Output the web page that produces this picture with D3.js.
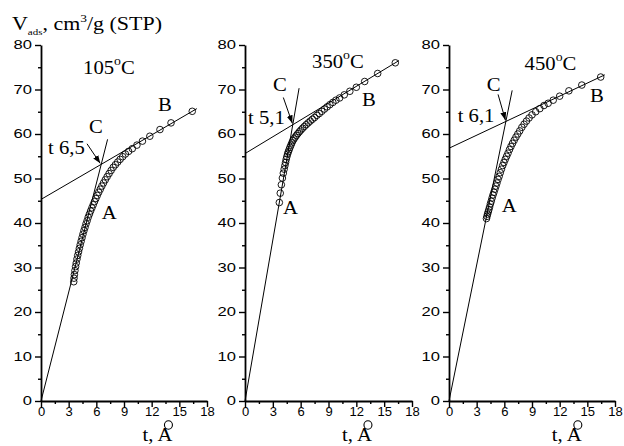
<!DOCTYPE html>
<html>
<head>
<meta charset="utf-8">
<script src="https://d3js.org/d3.v7.min.js"></script>
<style>
    body { margin: 0; background: #fff; }
</style>
</head>
<body>
<div id="chart"></div>
<script>

// tick values
var ticksX = [0, 3, 6, 9, 12, 15, 18];
var minorX = [1.5, 4.5, 7.5, 10.5, 13.5, 16.5];
var ticksY = [0, 10, 20, 30, 40, 50, 60, 70, 80];
var minorY = [5, 15, 25, 35, 45, 55, 65, 75];

// panel names and the t value written at C
var temps = ["105", "350", "450"];
var tC = ["6,5", "5,1", "6,1"];

// 105 C : t (A) and V ads (cm3/g)
var t105 = [3.55, 3.58, 3.62, 3.68, 3.75, 3.82, 3.9, 3.98, 4.07, 4.16, 4.25, 4.35, 4.45, 4.55, 4.66, 4.77,
    4.88, 5.0, 5.12, 5.25, 5.38, 5.52, 5.66, 5.8, 5.95, 6.1, 6.26, 6.43, 6.6, 6.78, 6.97, 7.17, 7.38, 7.6,
    7.83, 8.07, 8.32, 8.58, 8.86, 9.15, 9.5, 9.9, 10.4, 11.0, 11.8, 12.9, 14.1, 16.4];
var v105 = [26.8, 27.6, 28.4, 29.3, 30.2, 31.0, 31.9, 32.7, 33.5, 34.3, 35.1, 35.9, 36.7, 37.5, 38.3, 39.0,
    39.8, 40.5, 41.3, 42.0, 42.7, 43.4, 44.1, 44.8, 45.5, 46.2, 46.9, 47.6, 48.3, 49.0, 49.7, 50.4, 51.1, 51.8,
    52.5, 53.1, 53.7, 54.3, 54.9, 55.5, 56.1, 56.7, 57.5, 58.4, 59.5, 61.0, 62.5, 65.1];

// 350 C
var t350 = [3.7, 3.8, 3.92, 4.03, 4.13, 4.22, 4.3, 4.37, 4.44, 4.51, 4.59, 4.67, 4.76, 4.85, 4.95, 5.05,
    5.16, 5.28, 5.41, 5.55, 5.7, 5.86, 6.03, 6.21, 6.4, 6.6, 6.81, 7.03, 7.26, 7.5, 7.75, 8.01, 8.28, 8.56,
    8.85, 9.15, 9.47, 9.8, 10.2, 10.7, 11.3, 12.0, 12.9, 14.3, 16.2];
var v350 = [44.6, 46.7, 48.6, 50.1, 51.2, 52.1, 52.9, 53.6, 54.3, 54.9, 55.5, 56.0, 56.5, 57.0, 57.5, 58.0,
    58.5, 58.9, 59.3, 59.7, 60.1, 60.5, 60.9, 61.3, 61.7, 62.1, 62.5, 62.9, 63.3, 63.7, 64.2, 64.6, 65.1, 65.6,
    66.1, 66.6, 67.1, 67.6, 68.1, 68.8, 69.6, 70.5, 71.8, 73.6, 76.0];

// 450 C
var t450 = [4.06, 4.12, 4.18, 4.25, 4.32, 4.4, 4.49, 4.58, 4.67, 4.77, 4.87, 4.98, 5.09, 5.2, 5.32, 5.44,
    5.56, 5.69, 5.82, 5.96, 6.1, 6.25, 6.4, 6.56, 6.72, 6.89, 7.07, 7.26, 7.46, 7.67, 7.9, 8.14, 8.4, 8.68,
    9.0, 9.4, 9.85, 10.3, 10.75, 11.3, 12.0, 13.0, 14.4, 16.45];
var v450 = [41.0, 41.5, 42.0, 42.5, 43.0, 43.6, 44.3, 44.9, 45.6, 46.3, 46.9, 47.6, 48.3, 49.0, 49.8, 50.5,
    51.3, 52.1, 52.9, 53.6, 54.3, 55.0, 55.7, 56.5, 57.2, 57.9, 58.6, 59.3, 60.0, 60.7, 61.5, 62.2, 62.9, 63.6,
    64.3, 65.0, 65.7, 66.4, 66.9, 67.6, 68.5, 69.7, 71.0, 72.8];

// straight lines, [t, V] end points
var lineA105 = [[0, 0], [7.22, 58.8]], lineB105 = [[0, 45.3], [16.9, 65.7]];
var lineA350 = [[0, 0], [5.83, 70.3]], lineB350 = [[0, 55.6], [16.6, 76.5]];
var lineA450 = [[0, 0], [6.85, 69.8]], lineB450 = [[0, 56.8], [16.9, 73.3]];

var serif = "'Liberation Serif', 'Times New Roman', serif";
var sans = "'Liberation Sans', Arial, sans-serif";

var svg = d3.select("#chart")
    .append("svg")
    .attr("width", 624)
    .attr("height", 446);

svg.append("defs").append("marker")
    .attr("id", "arr")
    .attr("markerUnits", "userSpaceOnUse")
    .attr("markerWidth", 8)
    .attr("markerHeight", 6)
    .attr("refX", 8)
    .attr("refY", 3)
    .attr("orient", "auto")
    .append("path")
    .attr("d", "M0,0 L8,3 L0,6 Z")
    .style("fill", "black");

// text stretched a bit wider, like the scanned figure
function stext(g, x, y, sx, size, family) {
    return g.append("text")
        .attr("transform", "translate(" + x + "," + y + ") scale(" + sx + ",1)")
        .style("font-family", family)
        .style("font-size", size + "px")
        .style("fill", "black");
}

// y axis title
var title = stext(svg, 12, 30, 1.22, 18, serif);
title.append("tspan").text("V");
title.append("tspan").attr("dy", 5).style("font-size", "9px").text("ads");
title.append("tspan").attr("dy", -5).text(", cm");
title.append("tspan").attr("dy", -8).style("font-size", "11px").text("3");
title.append("tspan").attr("dy", 8).text("/g (STP)");

var panels = [
    { x0: 41, x1: 207, t: t105, v: v105, a: lineA105, b: lineB105,
      tempAt: [4.56, 73.5], cAt: [5.2, 60.3], tAt: [0.76, 55.6], aAt: [6.6, 41.0], bAt: [12.7, 65.2],
      arrow: [[4.99, 57.8], [6.42, 53.4]], xTitle: 11.0 },
    { x0: 245, x1: 412, t: t350, v: v350, a: lineA350, b: lineB350,
      tempAt: [7.23, 74.8], cAt: [3.02, 69.6], tAt: [0.32, 62.2], aAt: [4.1, 42.0], bAt: [12.6, 66.2],
      arrow: [[4.13, 68.2], [5.1, 62.4]], xTitle: 10.45 },
    { x0: 449, x1: 615, t: t450, v: v450, a: lineA450, b: lineB450,
      tempAt: [8.2, 74.3], cAt: [4.09, 69.6], tAt: [0.94, 62.6], aAt: [5.72, 42.4], bAt: [15.3, 67.1],
      arrow: [[5.32, 68.9], [6.12, 63.1]], xTitle: 11.15 }
];

panels.forEach(function (p, i) {
    var x = d3.scaleLinear().domain([0, 18]).range([p.x0, p.x1]);
    var y = d3.scaleLinear().domain([0, 80]).range([401, 45]);
    var g = svg.append("g");

    // axes
    var gx = g.append("g")
        .attr("transform", "translate(0,401)")
        .call(d3.axisBottom(x).tickValues(ticksX).tickSize(6).tickSizeOuter(0).tickPadding(0));
    gx.selectAll("text").style("font-family", sans).style("font-size", "13px");
    g.append("g")
        .attr("transform", "translate(0,401)")
        .call(d3.axisBottom(x).tickValues(minorX).tickSize(3).tickFormat(""))
        .select(".domain").remove();

    var gy = g.append("g")
        .attr("transform", "translate(" + p.x0 + ",0)")
        .call(d3.axisLeft(y).tickValues(ticksY).tickSize(6).tickSizeOuter(0).tickPadding(3));
    gy.selectAll("text")
        .style("font-family", sans).style("font-size", "12px")
        .attr("x", -9 / 1.38)
        .attr("transform", "scale(1.38,1)");
    g.append("g")
        .attr("transform", "translate(" + p.x0 + ",0)")
        .call(d3.axisLeft(y).tickValues(minorY).tickSize(3).tickFormat(""))
        .select(".domain").remove();

    g.selectAll(".domain").style("stroke-width", 1.8);
    g.selectAll(".tick line").style("stroke-width", 1.4);

    // straight lines
    var line = d3.line().x(function (d) { return x(d[0]); }).y(function (d) { return y(d[1]); });
    [p.a, p.b].forEach(function (l) {
        g.append("path").attr("d", line(l))
            .style("fill", "none").style("stroke", "black").style("stroke-width", 1);
    });

    // measured points
    g.selectAll("circle.pt")
        .data(d3.range(p.t.length))
        .enter()
        .append("circle")
        .attr("class", "pt")
        .attr("cx", function (k) { return x(p.t[k]); })
        .attr("cy", function (k) { return y(p.v[k]); })
        .attr("r", 3.3)
        .style("fill", "none")
        .style("stroke", "black")
        .style("stroke-width", 0.9);

    // arrow to C
    g.append("path").attr("d", line(p.arrow))
        .style("fill", "none").style("stroke", "black").style("stroke-width", 1)
        .attr("marker-end", "url(#arr)");

    // labels
    var tt = stext(g, x(p.tempAt[0]), y(p.tempAt[1]), 1.15, 18, serif);
    tt.append("tspan").text(temps[i]);
    tt.append("tspan").attr("dy", -9).style("font-size", "12px").text("o");
    tt.append("tspan").attr("dy", 9).text("C");

    stext(g, x(p.cAt[0]), y(p.cAt[1]), 1.15, 18, serif).text("C");
    stext(g, x(p.tAt[0]), y(p.tAt[1]), 1.15, 18, serif).text("t " + tC[i]);
    stext(g, x(p.aAt[0]), y(p.aAt[1]), 1.15, 18, serif).text("A");
    stext(g, x(p.bAt[0]), y(p.bAt[1]), 1.15, 18, serif).text("B");

    // x axis title: t, A with the angstrom ring drawn above
    stext(g, x(p.xTitle), 441, 1.15, 18, serif).text("t, A");
    g.append("ellipse")
        .attr("cx", x(p.xTitle) + 26)
        .attr("cy", 425)
        .attr("rx", 4)
        .attr("ry", 4.2)
        .style("fill", "none")
        .style("stroke", "black")
        .style("stroke-width", 1.1);
});

</script>
</body>
</html>
